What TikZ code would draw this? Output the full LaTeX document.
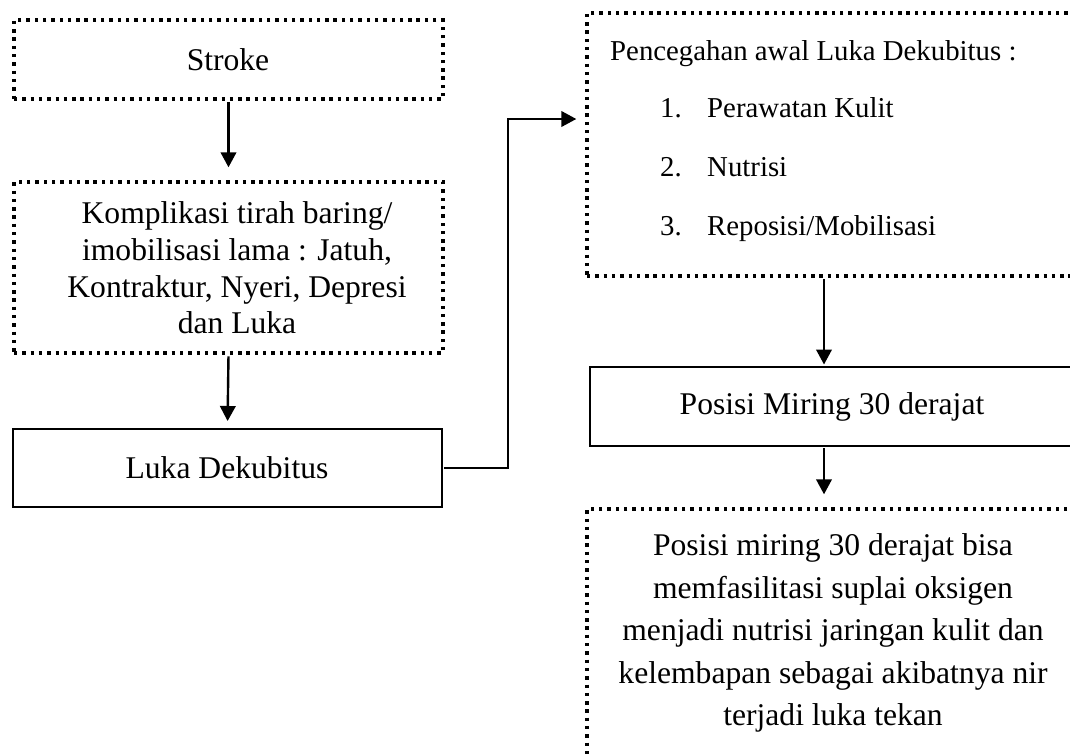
\documentclass[tikz,border=0pt]{standalone}
\usepackage{fontspec}
\setmainfont{Liberation Serif}
\usetikzlibrary{arrows.meta}
\begin{document}
\begin{tikzpicture}[x=1pt,y=-1pt,
  dotbox/.style={draw, line width=3.4pt, dash pattern=on 3.4pt off 4.9pt, rectangle, inner sep=0pt},
  solidbox/.style={draw, line width=2pt, rectangle, inner sep=0pt},
  bigtxt/.style={font=\fontsize{31.6}{36.7}\selectfont, align=center, inner sep=0pt},
  midtxt/.style={font=\fontsize{28.8}{34}\selectfont, inner sep=0pt, anchor=base west},
  arr/.style={line width=2.4pt, -{Triangle[width=15.5pt,length=15pt]}}]
\useasboundingbox (0,0) rectangle (1070,755);
\clip (0,0) rectangle (1070,755);
% left column
\node[dotbox, minimum width=429pt, minimum height=79pt] (stroke) at (228.5,59.5) {};
\node[bigtxt] (strokeT) at (228,60) {Stroke};
\node[dotbox, minimum width=429pt, minimum height=171pt] (kompl) at (228.5,267.5) {};
\node[bigtxt] (komplT) at (237,268) {Komplikasi tirah baring/\\imobilisasi lama : Jatuh,\\Kontraktur, Nyeri, Depresi\\dan Luka};
\node[solidbox, minimum width=429pt, minimum height=78pt] (luka) at (227.5,468) {};
\node[bigtxt] (lukaT) at (227,468) {Luka Dekubitus};
% right column
\node[dotbox, minimum width=503pt, minimum height=263pt] (pence) at (838.5,144.5) {};
\node[midtxt] (penceT) at (610,60) {Pencegahan awal Luka Dekubitus :};
\node[midtxt] (n1) at (660,117) {1.};
\node[midtxt] (i1) at (707,117) {Perawatan Kulit};
\node[midtxt] (n2) at (660,176) {2.};
\node[midtxt] (i2) at (707,176) {Nutrisi};
\node[midtxt] (n3) at (660,235) {3.};
\node[midtxt] (i3) at (707,235) {Reposisi/Mobilisasi};
\node[solidbox, minimum width=500pt, minimum height=79pt] (posisi) at (840,406.5) {};
\node[bigtxt] (posisiT) at (832,407) {Posisi Miring 30 derajat};
\node[dotbox, minimum width=503pt, minimum height=271pt] (akhir) at (838.5,644.5) {};
\node[bigtxt, font=\fontsize{31.6}{42.5}\selectfont] (akhirT) at (833,633) {Posisi miring 30 derajat bisa\\memfasilitasi suplai oksigen\\menjadi nutrisi jaringan kulit dan\\kelembapan sebagai akibatnya nir\\terjadi luka tekan};
% connectors
\coordinate (ax) at (824,0);
\coordinate (bend) at (508,119);
\draw[arr, shorten <=1.7pt, shorten >=13pt] (stroke.south) -- (kompl.north);
\draw[arr, shorten <=1.7pt, shorten >=7pt] (kompl.south) -- (luka.north);
\draw[arr, shorten <=1pt, shorten >=9pt] (luka.east) -| (bend) -- (pence.west |- bend);
\draw[arr, shorten <=1.7pt, shorten >=1.5pt] (pence.south -| ax) -- (posisi.north -| ax);
\draw[arr, shorten <=1pt, shorten >=13pt] (posisi.south -| ax) -- (akhir.north -| ax);
\end{tikzpicture}
\end{document}
